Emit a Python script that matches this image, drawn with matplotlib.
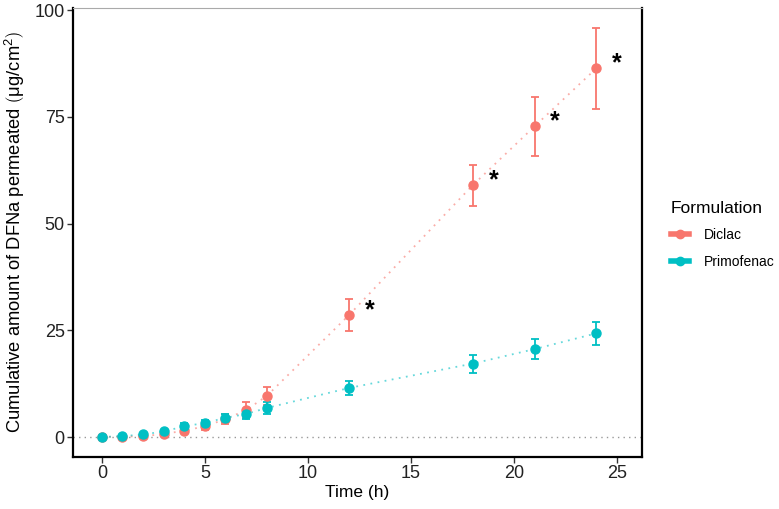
import numpy as np
import matplotlib.pyplot as plt
from matplotlib.lines import Line2D

plt.rcParams['font.family'] = ['Liberation Sans', 'DejaVu Sans']
plt.rcParams['mathtext.fontset'] = 'custom'
plt.rcParams['mathtext.rm'] = 'Liberation Sans'
plt.rcParams['mathtext.it'] = 'Liberation Sans'

time = [0, 1, 2, 3, 4, 5, 6, 7, 8, 12, 18, 21, 24]
diclac = [0, 0.1, 0.2, 0.7, 1.5, 2.5, 4.2, 6.3, 9.6, 28.6, 59.0, 72.8, 86.4]
diclac_err = [0.1, 0.2, 0.3, 0.4, 0.6, 0.8, 1.2, 1.8, 2.1, 3.8, 4.8, 6.9, 9.5]
primo = [0, 0.2, 0.6, 1.3, 2.5, 3.3, 4.5, 5.4, 6.8, 11.5, 17.2, 20.6, 24.3]
primo_err = [0.1, 0.2, 0.3, 0.4, 0.8, 0.7, 1.0, 1.2, 1.3, 1.7, 2.1, 2.3, 2.7]
star_times = [12, 18, 21, 24]

c_dic = "#F8766D"
c_pri = "#00BFC4"

fig = plt.figure(figsize=(7.79, 5.09), dpi=100)
ax = fig.add_axes([0.0937, 0.102, 0.730, 0.882])

ax.axhline(0, color="#999999", linestyle=(0, (1, 3)), linewidth=1.0, zorder=1)

for y, e, c in [(diclac, diclac_err, c_dic), (primo, primo_err, c_pri)]:
    ax.plot(time, y, linestyle=(0, (1, 3)), color=c, alpha=0.6, linewidth=1.3, zorder=2)
    ax.errorbar(time, y, yerr=e, fmt="o", color=c, markersize=6.5, capsize=3,
                elinewidth=1.3, capthick=1.3, zorder=3)

for t in star_times:
    v = diclac[time.index(t)]
    ax.text(t + 1, v + 1.2, "*", fontsize=18, fontweight="bold", ha="center", va="center")

ax.set_xlim(-1.4, 26.2)
ax.set_ylim(-4.7, 100.5)
ax.set_xticks([0, 5, 10, 15, 20, 25])
ax.set_yticks([0, 25, 50, 75, 100])
ax.tick_params(labelsize=13, length=4, width=1, color="#333333", labelcolor="#222222", pad=2)

for s in ["left", "bottom", "right"]:
    ax.spines[s].set_linewidth(1.6)
    ax.spines[s].set_color("black")
ax.spines["top"].set_linewidth(0.8)
ax.spines["top"].set_color("#aaaaaa")

ax.set_xlabel("Time (h)", fontsize=12.5, labelpad=2)
ax.set_ylabel(r"Cumulative amount of DFNa permeated $\left(\mathrm{μg/cm^2}\right)$",
              fontsize=13.2, labelpad=5)

handles = [Line2D([], [], color=c, linewidth=4, marker="o", markersize=6) for c in (c_dic, c_pri)]
fig.legend(handles=handles, labels=["Diclac", "Primofenac"], title="Formulation",
           loc="upper left", bbox_to_anchor=(0.845, 0.63), frameon=False,
           fontsize=10, title_fontsize=12.5, handlelength=1.3, handletextpad=1.1,
           labelspacing=0.9, alignment="left")

fig.savefig("out.png", dpi=100)
plt.close()
